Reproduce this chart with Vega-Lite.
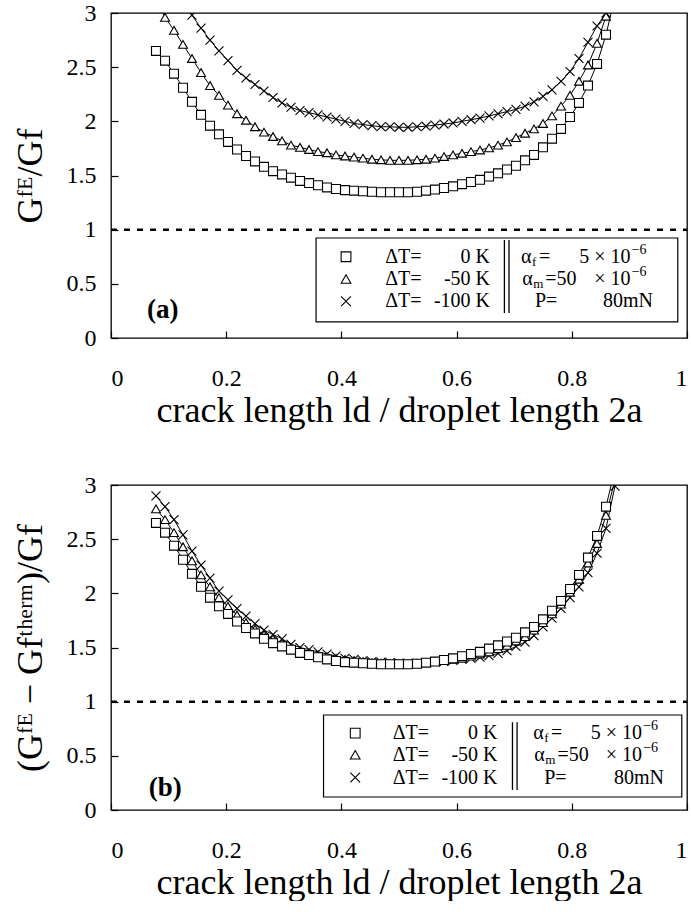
{
"$schema": "https://vega.github.io/schema/vega-lite/v6.json",
"autosize": {"type": "pad"},
"padding": {"left": 11, "top": 0, "right": 0, "bottom": 0},
"background": "white",
"spacing": 147,
"bounds": "flush",
"config": {
  "font": "Liberation Serif",
  "view": {"stroke": "black", "strokeWidth": 1.3},
  "axis": {"domain": false, "grid": false, "tickColor": "black", "tickSize": -7, "tickWidth": 1.2,
    "labelFont": "Liberation Serif", "labelFontSize": 24, "labelColor": "black",
    "titleFont": "Liberation Serif", "titleFontSize": 36, "titleFontWeight": "normal", "titleColor": "black"},
  "axisX": {"labelPadding": 35, "titlePadding": 3},
  "axisY": {"labelPadding": 22, "titlePadding": 17},
  "text": {"font": "Liberation Serif", "fontSize": 20, "color": "black", "baseline": "middle"}
},
"datasets": {
  "curvesA": [
    {"x":0.0781,"a":2.65,"b":3.12,"c":null},
    {"x":0.0938,"a":2.56,"b":2.96,"c":null},
    {"x":0.1094,"a":2.44,"b":2.84,"c":null},
    {"x":0.125,"a":2.31,"b":2.71,"c":3.12},
    {"x":0.1406,"a":2.18,"b":2.58,"c":2.98},
    {"x":0.1563,"a":2.06,"b":2.45,"c":2.86},
    {"x":0.1719,"a":1.96,"b":2.33,"c":2.75},
    {"x":0.1875,"a":1.88,"b":2.24,"c":2.65},
    {"x":0.2031,"a":1.81,"b":2.15,"c":2.56},
    {"x":0.2188,"a":1.74,"b":2.07,"c":2.47},
    {"x":0.2344,"a":1.68,"b":2.01,"c":2.40},
    {"x":0.25,"a":1.63,"b":1.95,"c":2.34},
    {"x":0.2656,"a":1.58,"b":1.90,"c":2.28},
    {"x":0.2813,"a":1.54,"b":1.86,"c":2.22},
    {"x":0.2969,"a":1.51,"b":1.82,"c":2.17},
    {"x":0.3125,"a":1.48,"b":1.78,"c":2.13},
    {"x":0.3281,"a":1.45,"b":1.76,"c":2.10},
    {"x":0.3438,"a":1.43,"b":1.74,"c":2.08},
    {"x":0.3594,"a":1.41,"b":1.72,"c":2.06},
    {"x":0.375,"a":1.39,"b":1.71,"c":2.04},
    {"x":0.3906,"a":1.375,"b":1.69,"c":2.02},
    {"x":0.4063,"a":1.365,"b":1.68,"c":2.00},
    {"x":0.4219,"a":1.36,"b":1.67,"c":1.98},
    {"x":0.4375,"a":1.355,"b":1.66,"c":1.97},
    {"x":0.4531,"a":1.35,"b":1.65,"c":1.96},
    {"x":0.4688,"a":1.345,"b":1.645,"c":1.95},
    {"x":0.4844,"a":1.345,"b":1.64,"c":1.95},
    {"x":0.5,"a":1.345,"b":1.64,"c":1.945},
    {"x":0.5156,"a":1.345,"b":1.64,"c":1.945},
    {"x":0.5313,"a":1.35,"b":1.645,"c":1.95},
    {"x":0.5469,"a":1.36,"b":1.65,"c":1.955},
    {"x":0.5625,"a":1.37,"b":1.66,"c":1.965},
    {"x":0.5781,"a":1.385,"b":1.675,"c":1.975},
    {"x":0.5938,"a":1.40,"b":1.69,"c":1.985},
    {"x":0.6094,"a":1.42,"b":1.705,"c":2.00},
    {"x":0.625,"a":1.44,"b":1.72,"c":2.015},
    {"x":0.6406,"a":1.46,"b":1.735,"c":2.03},
    {"x":0.6563,"a":1.49,"b":1.755,"c":2.05},
    {"x":0.6719,"a":1.52,"b":1.78,"c":2.07},
    {"x":0.6875,"a":1.555,"b":1.81,"c":2.09},
    {"x":0.7031,"a":1.59,"b":1.85,"c":2.11},
    {"x":0.7188,"a":1.64,"b":1.89,"c":2.14},
    {"x":0.7344,"a":1.69,"b":1.93,"c":2.18},
    {"x":0.75,"a":1.76,"b":1.98,"c":2.23},
    {"x":0.7656,"a":1.84,"b":2.05,"c":2.29},
    {"x":0.7813,"a":1.93,"b":2.14,"c":2.37},
    {"x":0.7969,"a":2.04,"b":2.24,"c":2.46},
    {"x":0.8125,"a":2.17,"b":2.37,"c":2.58},
    {"x":0.8281,"a":2.33,"b":2.52,"c":2.73},
    {"x":0.8438,"a":2.53,"b":2.72,"c":2.88},
    {"x":0.8594,"a":2.80,"b":2.97,"c":3.0},
    {"x":0.875,"a":3.15,"b":3.25,"c":3.15}
  ],
  "curvesB": [
    {"x":0.0781,"a":2.65,"b":2.78,"c":2.90},
    {"x":0.0938,"a":2.56,"b":2.68,"c":2.80},
    {"x":0.1094,"a":2.44,"b":2.56,"c":2.68},
    {"x":0.125,"a":2.31,"b":2.43,"c":2.54},
    {"x":0.1406,"a":2.18,"b":2.30,"c":2.39},
    {"x":0.1563,"a":2.06,"b":2.17,"c":2.26},
    {"x":0.1719,"a":1.96,"b":2.06,"c":2.14},
    {"x":0.1875,"a":1.88,"b":1.96,"c":2.02},
    {"x":0.2031,"a":1.81,"b":1.88,"c":1.94},
    {"x":0.2188,"a":1.74,"b":1.80,"c":1.86},
    {"x":0.2344,"a":1.68,"b":1.73,"c":1.79},
    {"x":0.25,"a":1.63,"b":1.67,"c":1.72},
    {"x":0.2656,"a":1.58,"b":1.62,"c":1.66},
    {"x":0.2813,"a":1.54,"b":1.58,"c":1.62},
    {"x":0.2969,"a":1.51,"b":1.54,"c":1.58},
    {"x":0.3125,"a":1.48,"b":1.50,"c":1.53},
    {"x":0.3281,"a":1.45,"b":1.47,"c":1.50},
    {"x":0.3438,"a":1.43,"b":1.45,"c":1.48},
    {"x":0.3594,"a":1.41,"b":1.43,"c":1.46},
    {"x":0.375,"a":1.39,"b":1.415,"c":1.44},
    {"x":0.3906,"a":1.375,"b":1.40,"c":1.42},
    {"x":0.4063,"a":1.365,"b":1.39,"c":1.40},
    {"x":0.4219,"a":1.36,"b":1.38,"c":1.39},
    {"x":0.4375,"a":1.355,"b":1.37,"c":1.38},
    {"x":0.4531,"a":1.35,"b":1.36,"c":1.37},
    {"x":0.4688,"a":1.345,"b":1.355,"c":1.365},
    {"x":0.4844,"a":1.345,"b":1.35,"c":1.36},
    {"x":0.5,"a":1.345,"b":1.35,"c":1.355},
    {"x":0.5156,"a":1.345,"b":1.35,"c":1.355},
    {"x":0.5313,"a":1.35,"b":1.355,"c":1.355},
    {"x":0.5469,"a":1.36,"b":1.36,"c":1.36},
    {"x":0.5625,"a":1.37,"b":1.37,"c":1.365},
    {"x":0.5781,"a":1.385,"b":1.38,"c":1.37},
    {"x":0.5938,"a":1.40,"b":1.39,"c":1.38},
    {"x":0.6094,"a":1.42,"b":1.40,"c":1.39},
    {"x":0.625,"a":1.44,"b":1.42,"c":1.40},
    {"x":0.6406,"a":1.46,"b":1.44,"c":1.41},
    {"x":0.6563,"a":1.49,"b":1.46,"c":1.425},
    {"x":0.6719,"a":1.52,"b":1.49,"c":1.445},
    {"x":0.6875,"a":1.555,"b":1.52,"c":1.47},
    {"x":0.7031,"a":1.59,"b":1.56,"c":1.51},
    {"x":0.7188,"a":1.64,"b":1.60,"c":1.55},
    {"x":0.7344,"a":1.69,"b":1.66,"c":1.61},
    {"x":0.75,"a":1.76,"b":1.73,"c":1.69},
    {"x":0.7656,"a":1.84,"b":1.81,"c":1.77},
    {"x":0.7813,"a":1.93,"b":1.90,"c":1.86},
    {"x":0.7969,"a":2.04,"b":2.01,"c":1.96},
    {"x":0.8125,"a":2.17,"b":2.13,"c":2.06},
    {"x":0.8281,"a":2.33,"b":2.28,"c":2.19},
    {"x":0.8438,"a":2.53,"b":2.46,"c":2.37},
    {"x":0.8594,"a":2.80,"b":2.72,"c":2.60},
    {"x":0.875,"a":3.15,"b":3.05,"c":2.99}
  ],
  "legA": [
    {"k":"dash","x":0,"x2":1,"y":1},
    {"k":"box","x":0.356,"x2":0.984,"y":0.148,"y2":0.923},
    {"k":"bar","x":0.683,"y":0.23,"y2":0.905},
    {"k":"bar","x":0.691,"y":0.23,"y2":0.905},
    {"k":"sym","x":0.408,"y":0.75,"s":"a"},
    {"k":"sym","x":0.408,"y":0.545,"s":"b"},
    {"k":"sym","x":0.408,"y":0.34,"s":"c"},
    {"k":"tl","x":0.476,"y":0.75,"t":"ΔT="},
    {"k":"tl","x":0.476,"y":0.545,"t":"ΔT="},
    {"k":"tl","x":0.476,"y":0.34,"t":"ΔT="},
    {"k":"tl","x":0.712,"y":0.75,"t":"α"},
    {"k":"tl","x":0.714,"y":0.545,"t":"α"},
    {"k":"tl","x":0.736,"y":0.34,"t":"P="},
    {"k":"tl","x":0.743,"y":0.75,"t":"="},
    {"k":"tl","x":0.754,"y":0.545,"t":"=50"},
    {"k":"tr","x":0.658,"y":0.75,"t":"0 K"},
    {"k":"tr","x":0.658,"y":0.545,"t":"-50 K"},
    {"k":"tr","x":0.658,"y":0.34,"t":"-100 K"},
    {"k":"tr","x":0.902,"y":0.75,"t":"5 × 10"},
    {"k":"tr","x":0.902,"y":0.545,"t":"× 10"},
    {"k":"tr","x":0.941,"y":0.34,"t":"80mN"},
    {"k":"sub","x":0.731,"y":0.75,"t":"f"},
    {"k":"sub","x":0.733,"y":0.545,"t":"m"},
    {"k":"sup","x":0.904,"y":0.75,"t":"−6"},
    {"k":"sup","x":0.904,"y":0.545,"t":"−6"},
    {"k":"lab","x":0.09,"y":0.26,"t":"(a)"}
  ],
  "legB": [
    {"k":"dash","x":0,"x2":1,"y":1},
    {"k":"box","x":0.369,"x2":0.991,"y":0.12,"y2":0.877},
    {"k":"bar","x":0.697,"y":0.185,"y2":0.81},
    {"k":"bar","x":0.705,"y":0.185,"y2":0.81},
    {"k":"sym","x":0.424,"y":0.71,"s":"a"},
    {"k":"sym","x":0.424,"y":0.51,"s":"b"},
    {"k":"sym","x":0.424,"y":0.30,"s":"c"},
    {"k":"tl","x":0.489,"y":0.71,"t":"ΔT="},
    {"k":"tl","x":0.489,"y":0.51,"t":"ΔT="},
    {"k":"tl","x":0.489,"y":0.30,"t":"ΔT="},
    {"k":"tl","x":0.733,"y":0.71,"t":"α"},
    {"k":"tl","x":0.735,"y":0.51,"t":"α"},
    {"k":"tl","x":0.752,"y":0.30,"t":"P="},
    {"k":"tl","x":0.764,"y":0.71,"t":"="},
    {"k":"tl","x":0.775,"y":0.51,"t":"=50"},
    {"k":"tr","x":0.671,"y":0.71,"t":"0 K"},
    {"k":"tr","x":0.671,"y":0.51,"t":"-50 K"},
    {"k":"tr","x":0.671,"y":0.30,"t":"-100 K"},
    {"k":"tr","x":0.922,"y":0.71,"t":"5 × 10"},
    {"k":"tr","x":0.922,"y":0.51,"t":"× 10"},
    {"k":"tr","x":0.96,"y":0.30,"t":"80mN"},
    {"k":"sub","x":0.752,"y":0.71,"t":"f"},
    {"k":"sub","x":0.754,"y":0.51,"t":"m"},
    {"k":"sup","x":0.924,"y":0.71,"t":"−6"},
    {"k":"sup","x":0.924,"y":0.51,"t":"−6"},
    {"k":"lab","x":0.094,"y":0.2,"t":"(b)"}
  ]
},
"vconcat": [
  {
    "width": 576, "height": 325,
    "encoding": {
      "x": {"field": "x", "type": "quantitative", "scale": {"domain": [0, 1]},
        "axis": {"values": [0, 0.2, 0.4, 0.6, 0.8, 1], "format": "~g", "title": "crack length ld / droplet length 2a"}},
      "y": {"field": "y", "type": "quantitative", "scale": {"domain": [0, 3]},
        "axis": {"values": [0, 0.5, 1, 1.5, 2, 2.5, 3], "format": "~g", "title": "Gᶠᴱ/Gf"}}
    },
    "layer": [
      {"data": {"name": "legA"}, "transform": [{"filter": "datum.k == 'dash'"}],
       "mark": {"type": "rule", "color": "black", "strokeWidth": 2.5, "strokeDash": [6, 7]},
       "encoding": {"x2": {"field": "x2"}}},
      {"data": {"name": "curvesA"}, "transform": [{"fold": ["a", "b", "c"], "as": ["s", "y"]}, {"filter": "isValid(datum.y)"}],
       "mark": {"type": "line", "color": "black", "strokeWidth": 1, "clip": true},
       "encoding": {"detail": {"field": "s"}}},
      {"data": {"name": "curvesA"}, "transform": [{"fold": ["a", "b", "c"], "as": ["s", "y"]}, {"filter": "isValid(datum.y)"}],
       "mark": {"type": "point", "filled": false, "fill": "white", "fillOpacity": 1, "stroke": "black", "strokeWidth": 1.1, "size": 80, "opacity": 1, "clip": true},
       "encoding": {"shape": {"field": "s", "type": "nominal", "scale": {"domain": ["a", "b", "c"], "range": ["square", "triangle-up", "M-1,-1L1,1M-1,1L1,-1"]}, "legend": null}}},
      {"data": {"name": "legA"}, "transform": [{"filter": "datum.k == 'box'"}],
       "mark": {"type": "rect", "fill": "white", "stroke": "black", "strokeWidth": 1.2},
       "encoding": {"x2": {"field": "x2"}, "y2": {"field": "y2"}}},
      {"data": {"name": "legA"}, "transform": [{"filter": "datum.k == 'bar'"}],
       "mark": {"type": "rule", "color": "black", "strokeWidth": 1.3},
       "encoding": {"y2": {"field": "y2"}}},
      {"data": {"name": "legA"}, "transform": [{"filter": "datum.k == 'sym'"}],
       "mark": {"type": "point", "filled": false, "fill": "white", "fillOpacity": 1, "stroke": "black", "strokeWidth": 1.1, "size": 95, "opacity": 1},
       "encoding": {"shape": {"field": "s", "type": "nominal", "legend": null}}},
      {"data": {"name": "legA"}, "transform": [{"filter": "datum.k == 'tl'"}],
       "mark": {"type": "text", "align": "left"},
       "encoding": {"text": {"field": "t"}}},
      {"data": {"name": "legA"}, "transform": [{"filter": "datum.k == 'tr'"}],
       "mark": {"type": "text", "align": "right"},
       "encoding": {"text": {"field": "t"}}},
      {"data": {"name": "legA"}, "transform": [{"filter": "datum.k == 'sub'"}],
       "mark": {"type": "text", "align": "left", "fontSize": 13, "dy": 5},
       "encoding": {"text": {"field": "t"}}},
      {"data": {"name": "legA"}, "transform": [{"filter": "datum.k == 'sup'"}],
       "mark": {"type": "text", "align": "left", "fontSize": 14, "dy": -7},
       "encoding": {"text": {"field": "t"}}},
      {"data": {"name": "legA"}, "transform": [{"filter": "datum.k == 'lab'"}],
       "mark": {"type": "text", "align": "center", "fontSize": 27, "fontWeight": "bold"},
       "encoding": {"text": {"field": "t"}}}
    ]
  },
  {
    "width": 576, "height": 325,
    "encoding": {
      "x": {"field": "x", "type": "quantitative", "scale": {"domain": [0, 1]},
        "axis": {"values": [0, 0.2, 0.4, 0.6, 0.8, 1], "format": "~g", "title": "crack length ld / droplet length 2a"}},
      "y": {"field": "y", "type": "quantitative", "scale": {"domain": [0, 3]},
        "axis": {"values": [0, 0.5, 1, 1.5, 2, 2.5, 3], "format": "~g", "title": "(Gᶠᴱ − Gfᵗʰᵉʳᵐ)/Gf"}}
    },
    "layer": [
      {"data": {"name": "legB"}, "transform": [{"filter": "datum.k == 'dash'"}],
       "mark": {"type": "rule", "color": "black", "strokeWidth": 2.5, "strokeDash": [6, 7]},
       "encoding": {"x2": {"field": "x2"}}},
      {"data": {"name": "curvesB"}, "transform": [{"fold": ["a", "b", "c"], "as": ["s", "y"]}, {"filter": "isValid(datum.y)"}],
       "mark": {"type": "line", "color": "black", "strokeWidth": 1, "clip": true},
       "encoding": {"detail": {"field": "s"}}},
      {"data": {"name": "curvesB"}, "transform": [{"fold": ["c", "b", "a"], "as": ["s", "y"]}, {"filter": "isValid(datum.y)"}],
       "mark": {"type": "point", "filled": false, "fill": "white", "fillOpacity": 1, "stroke": "black", "strokeWidth": 1.1, "size": 80, "opacity": 1, "clip": true},
       "encoding": {"shape": {"field": "s", "type": "nominal", "scale": {"domain": ["a", "b", "c"], "range": ["square", "triangle-up", "M-1,-1L1,1M-1,1L1,-1"]}, "legend": null}}},
      {"data": {"name": "legB"}, "transform": [{"filter": "datum.k == 'box'"}],
       "mark": {"type": "rect", "fill": "white", "stroke": "black", "strokeWidth": 1.2},
       "encoding": {"x2": {"field": "x2"}, "y2": {"field": "y2"}}},
      {"data": {"name": "legB"}, "transform": [{"filter": "datum.k == 'bar'"}],
       "mark": {"type": "rule", "color": "black", "strokeWidth": 1.3},
       "encoding": {"y2": {"field": "y2"}}},
      {"data": {"name": "legB"}, "transform": [{"filter": "datum.k == 'sym'"}],
       "mark": {"type": "point", "filled": false, "fill": "white", "fillOpacity": 1, "stroke": "black", "strokeWidth": 1.1, "size": 95, "opacity": 1},
       "encoding": {"shape": {"field": "s", "type": "nominal", "legend": null}}},
      {"data": {"name": "legB"}, "transform": [{"filter": "datum.k == 'tl'"}],
       "mark": {"type": "text", "align": "left"},
       "encoding": {"text": {"field": "t"}}},
      {"data": {"name": "legB"}, "transform": [{"filter": "datum.k == 'tr'"}],
       "mark": {"type": "text", "align": "right"},
       "encoding": {"text": {"field": "t"}}},
      {"data": {"name": "legB"}, "transform": [{"filter": "datum.k == 'sub'"}],
       "mark": {"type": "text", "align": "left", "fontSize": 13, "dy": 5},
       "encoding": {"text": {"field": "t"}}},
      {"data": {"name": "legB"}, "transform": [{"filter": "datum.k == 'sup'"}],
       "mark": {"type": "text", "align": "left", "fontSize": 14, "dy": -7},
       "encoding": {"text": {"field": "t"}}},
      {"data": {"name": "legB"}, "transform": [{"filter": "datum.k == 'lab'"}],
       "mark": {"type": "text", "align": "center", "fontSize": 27, "fontWeight": "bold"},
       "encoding": {"text": {"field": "t"}}}
    ]
  }
]
}
